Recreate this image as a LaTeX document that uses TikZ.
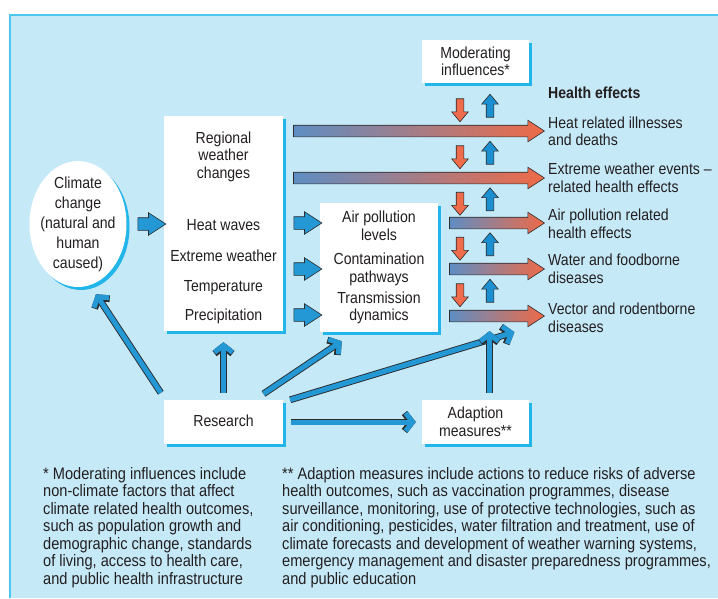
\documentclass[tikz,border=0pt]{standalone}
\usepackage{fontspec}
\setmainfont{Liberation Sans}[FakeStretch=0.88]
\usetikzlibrary{shapes.geometric,shapes.arrows,arrows.meta,shadows}

\definecolor{panel}{HTML}{C6E9F8}
\definecolor{border}{HTML}{4EC6EF}
\definecolor{shadowcyan}{HTML}{22B5EA}
\definecolor{textcol}{HTML}{231F20}
\definecolor{edge}{HTML}{2B2B2B}
\definecolor{arrowblue}{HTML}{2398D5}
\definecolor{upblue}{HTML}{1B8FCF}
\definecolor{downred}{HTML}{EE6B4C}
\definecolor{gradblue}{HTML}{5E8EC3}
\definecolor{gradred}{HTML}{EF6A47}

\newcommand{\diagfont}{\fontsize{16}{17.4}\selectfont}

\tikzset{
  box/.style={fill=white, inner sep=0pt, drop shadow={shadow xshift=3pt, shadow yshift=-3pt, fill=shadowcyan, opacity=1}},
  txt/.style={text=textcol, inner sep=0pt, align=center, font=\diagfont},
  fx/.style={txt, align=left, anchor=north west},
  note/.style={txt, align=left, anchor=north west, font=\fontsize{16.6}{17.5}\selectfont},
  blockarrow/.style={single arrow, draw=edge, line width=0.6pt, inner sep=6pt, single arrow head extend=5pt, single arrow tip angle=66},
  bluearrow/.style={blockarrow, fill=arrowblue, minimum height=28pt},
  gradarrow/.style={blockarrow, inner sep=5.5pt, left color=gradblue, right color=gradred},
  smallarrow/.style={single arrow, draw=edge, line width=0.6pt, inner sep=3.5pt, minimum height=23pt, single arrow head extend=4.5pt, single arrow tip angle=80},
  downarrow/.style={smallarrow, fill=downred, shape border rotate=270},
  uparrow/.style={smallarrow, fill=upblue, shape border rotate=90},
  resarrow/.style={draw=arrowblue, line width=5pt, -{Straight Barb[length=7pt, width=18pt]},
    preaction={draw=edge, line width=6.8pt, -{Straight Barb[length=7pt, width=18pt]}}}
}

\begin{document}
\begin{tikzpicture}[x=1pt, y=-1pt]
\useasboundingbox (0,0) rectangle (718,598);
\fill[panel] (10,15) rectangle (718,598);
\draw[border, line width=2pt] (10,598) -- (10,15) -- (718,15);

% boxes
\node[box, ellipse, minimum width=97pt, minimum height=126pt] (clim) at (78,224) {};
\node[box, minimum width=119pt, minimum height=215pt] (reg) at (223.5,223.5) {};
\node[box, minimum width=118pt, minimum height=129pt] (mid) at (379,267.5) {};
\node[box, minimum width=107pt, minimum height=43pt] (mod) at (475.5,61.5) {};
\node[box, minimum width=119pt, minimum height=44pt] (res) at (223.5,422) {};
\node[box, minimum width=107pt, minimum height=44pt] (adapt) at (475.5,422) {};

% texts in the boxes
\node[txt, font=\fontsize{16}{20}\selectfont] (climtxt) at (78,224) {Climate\\change\\(natural and\\human\\caused)};
\node[txt, anchor=north] (regtitle) at (223.5,131.5) {Regional\\weather\\changes};
\node[txt, anchor=base] (heat) at (223.5,230.5) {Heat waves};
\node[txt, anchor=base] (extreme) at (223.5,261) {Extreme weather};
\node[txt, anchor=base] (temp) at (223.5,291) {Temperature};
\node[txt, anchor=base] (precip) at (223.5,320.5) {Precipitation};
\node[txt, anchor=north] (air) at (379,211) {Air pollution\\levels};
\node[txt, anchor=north] (cont) at (379,253) {Contamination\\pathways};
\node[txt, anchor=north] (trans) at (379,291.5) {Transmission\\dynamics};
\node[txt, anchor=north] (modtxt) at (475.5,46.5) {Moderating\\influences*};
\node[txt, anchor=base] (restxt) at (223.5,426.5) {Research};
\node[txt, anchor=north] (adapttxt) at (475.5,407) {Adaption\\measures**};

% health effects
\node[fx, font=\diagfont\bfseries] (hfx) at (548,87) {Health effects};
\node[fx] (fx1) at (548,116.5) {Heat related illnesses\\and deaths};
\node[fx] (fx2) at (548,163) {Extreme weather events –\\related health effects};
\node[fx] (fx3) at (548,209) {Air pollution related\\health effects};
\node[fx] (fx4) at (548,254) {Water and foodborne\\diseases};
\node[fx] (fx5) at (548,303) {Vector and rodentborne\\diseases};

% block arrows
\node[bluearrow] (c2r) at (147,224) {};
\node[bluearrow] (r2m1) at (303,223) {};
\node[bluearrow] (r2m2) at (303,269) {};
\node[bluearrow] (r2m3) at (303,315) {};
\node[gradarrow, minimum height=251pt] (g1) at (414.5,131) {};
\node[gradarrow, minimum height=251pt] (g2) at (414.5,178) {};
\node[gradarrow, minimum height=95pt] (g3) at (492.5,223) {};
\node[gradarrow, minimum height=95pt] (g4) at (492.5,269) {};
\node[gradarrow, minimum height=95pt] (g5) at (492.5,316) {};

% influences on the arrows
\node[downarrow] (d1) at (460,108) {};
\node[downarrow] (d2) at (460,155) {};
\node[downarrow] (d3) at (460,201.5) {};
\node[downarrow] (d4) at (460,246.5) {};
\node[downarrow] (d5) at (460,293) {};
\node[uparrow] (u1) at (490,108) {};
\node[uparrow] (u2) at (490,155) {};
\node[uparrow] (u3) at (490,201.5) {};
\node[uparrow] (u4) at (490,246.5) {};
\node[uparrow] (u5) at (490,293) {};

% research
\draw[resarrow] ([shift={(-3pt,7pt)}]res.north west) -- ([shift={(18pt,-7pt)}]clim.south);
\draw[resarrow] ([yshift=7pt]res.north) -- ([yshift=-11pt]reg.south);
\draw[resarrow] ([shift={(40pt,6pt)}]res.north) -- ([shift={(22pt,-9pt)}]mid.south west);
\draw[resarrow] ([xshift=7pt]res.north east) -- ([shift={(28pt,-10pt)}]g5.south west);
\draw[resarrow] ([xshift=8pt]res.east) -- ([xshift=-6pt]adapt.west);
\draw[resarrow] ([shift={(14pt,7pt)}]adapt.north) -- ([shift={(-3pt,-9pt)}]g5.south);

% notes
\node[note] (note1) at (43,467) {* Moderating influences include\\non-climate factors that affect\\climate related health outcomes,\\such as population growth and\\demographic change, standards\\of living, access to health care,\\and public health infrastructure};
\node[note] (note2) at (282,467) {** Adaption measures include actions to reduce risks of adverse\\health outcomes, such as vaccination programmes, disease\\surveillance, monitoring, use of protective technologies, such as\\air conditioning, pesticides, water filtration and treatment, use of\\climate forecasts and development of weather warning systems,\\emergency management and disaster preparedness programmes,\\and public education};
\end{tikzpicture}
\end{document}
